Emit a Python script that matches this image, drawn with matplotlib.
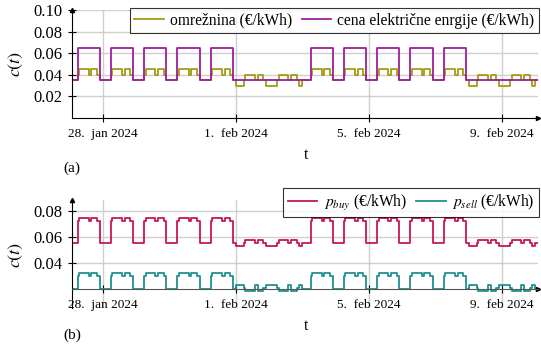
import numpy as np
import pandas as pd
import matplotlib
matplotlib.use("Agg")
import matplotlib.pyplot as plt

plt.rcParams["font.family"] = ["Liberation Serif", "DejaVu Serif"]
plt.rcParams["mathtext.fontset"] = "stix"

# --- data (hourly profiles) ---
day_types = ["wd"] * 5 + ["we"] * 2 + ["wd"] * 5 + ["we"] * 2 + ["wd"]

omreznina_wd = [0.035] * 6 + [0.040] + [0.045] * 7 + [0.040] * 2 + [0.045] * 4 + [0.040] * 2 + [0.035] * 2
omreznina_we = [0.030] * 6 + [0.035] + [0.040] * 7 + [0.035] * 2 + [0.040] * 4 + [0.035] * 2 + [0.030] * 2
energija_wd = [0.035] * 6 + [0.065] * 16 + [0.035] * 2
energija_we = [0.035] * 24

pbuy_wd = [0.0555] * 6 + [0.0725] + [0.0745] * 7 + [0.0725] * 2 + [0.0745] * 4 + [0.0725] * 2 + [0.0555] * 2
pbuy_we = [0.0530] * 6 + [0.0555] + [0.0580] * 7 + [0.0555] * 2 + [0.0580] * 4 + [0.0555] * 2 + [0.0530] * 2
psell_wd = [0.0205] * 6 + [0.0305] + [0.0325] * 7 + [0.0305] * 2 + [0.0325] * 4 + [0.0305] * 2 + [0.0205] * 2
psell_we = [0.0235] * 6 + [0.0210] + [0.0188] * 7 + [0.0235] * 2 + [0.0188] * 4 + [0.0210] * 2 + [0.0235] * 2

tick_dates = ["2024-01-28", "2024-02-01", "2024-02-05", "2024-02-09"]
tick_labels = ["28.  jan 2024", "1.  feb 2024", "5.  feb 2024", "9.  feb 2024"]


def build(wd, we):
    return np.concatenate([wd if d == "wd" else we for d in day_types])


t = pd.date_range("2024-01-27", periods=len(day_types) * 24, freq="h")
omreznina = build(omreznina_wd, omreznina_we)
energija = build(energija_wd, energija_we)
pbuy = build(pbuy_wd, pbuy_we)
psell = build(psell_wd, psell_we)

x0 = pd.Timestamp("2024-01-27 02:00")
x1 = pd.Timestamp("2024-02-10 02:00")

fig = plt.figure(figsize=(5.41, 3.49), dpi=100)
W, H = 541, 349
ax1 = fig.add_axes([72 / W, 1 - 118 / H, 466 / W, 108 / H])
ax2 = fig.add_axes([72 / W, 1 - 308 / H, 466 / W, 108 / H])


def style(ax, yarrow=0):
    for s in ["top", "right"]:
        ax.spines[s].set_visible(False)
    ax.grid(True, color="#cfcfcf", lw=1.0)
    ax.set_axisbelow(True)
    ax.set_xlim(x0, x1)
    ax.set_xticks(pd.to_datetime(tick_dates))
    ax.set_xticklabels(tick_labels)
    ax.tick_params(axis="x", direction="inout", length=6, width=0.8, labelsize=9.5, pad=4.0)
    ax.tick_params(axis="y", direction="inout", length=6, width=0.8, labelsize=12, pad=4.0)
    # axis arrows
    ax.plot(1, yarrow, ">k", transform=ax.get_yaxis_transform() if yarrow else ax.transAxes,
            ms=3, clip_on=False)
    ax.plot(0, 1, "^k", transform=ax.transAxes, ms=3, clip_on=False)


ax1.step(t, omreznina, where="post", color="#a39c12", lw=1.3, label="omrežnina (€/kWh)")
ax1.step(t, energija, where="post", color="#9c1f9c", lw=1.3, label="cena električne enrgije (€/kWh)")
ax1.set_ylim(0, 0.10)
ax1.set_yticks([0.02, 0.04, 0.06, 0.08, 0.10])
ax1.set_yticklabels(["0.02", "0.04", "0.06", "0.08", "0.10"])
style(ax1)

ax2.step(t, pbuy, where="post", color="#c8174f", lw=1.3, label="$p_{buy}$ (€/kWh)")
ax2.step(t, psell, where="post", color="#1f9090", lw=1.3, label="$p_{sell}$ (€/kWh)")
ax2.set_ylim(0.0058, 0.0884)
ax2.set_yticks([0.04, 0.06, 0.08])
ax2.set_yticklabels(["0.04", "0.06", "0.08"])
ax2.spines["bottom"].set_position(("data", 0.02))
ax2.spines["bottom"].set_color("#555555")
style(ax2, yarrow=0.02)

for ax, top in [(ax1, 8), (ax2, 188)]:
    leg = ax.legend(loc="upper right", bbox_to_anchor=(539 / W, 1 - top / H),
                    bbox_transform=fig.transFigure, ncol=2, fontsize=11.2,
                    frameon=True, fancybox=False, edgecolor="black",
                    handlelength=1.9, handletextpad=0.4, columnspacing=0.6,
                    borderpad=0.3, borderaxespad=0)
    leg.get_frame().set_linewidth(0.8)

fig.text(16 / W, 1 - 64 / H, "$c(t)$", rotation=90, ha="center", va="center", fontsize=13)
fig.text(16 / W, 1 - 255 / H, "$c(t)$", rotation=90, ha="center", va="center", fontsize=13)
fig.text(306 / W, 1 - 155 / H, "t", ha="center", va="center", fontsize=11.5)
fig.text(306 / W, 1 - 326 / H, "t", ha="center", va="center", fontsize=11.5)
fig.text(72 / W, 1 - 168 / H, "(a)", ha="center", va="center", fontsize=11)
fig.text(72 / W, 1 - 335 / H, "(b)", ha="center", va="center", fontsize=11)

fig.savefig("out.png", dpi=100)
